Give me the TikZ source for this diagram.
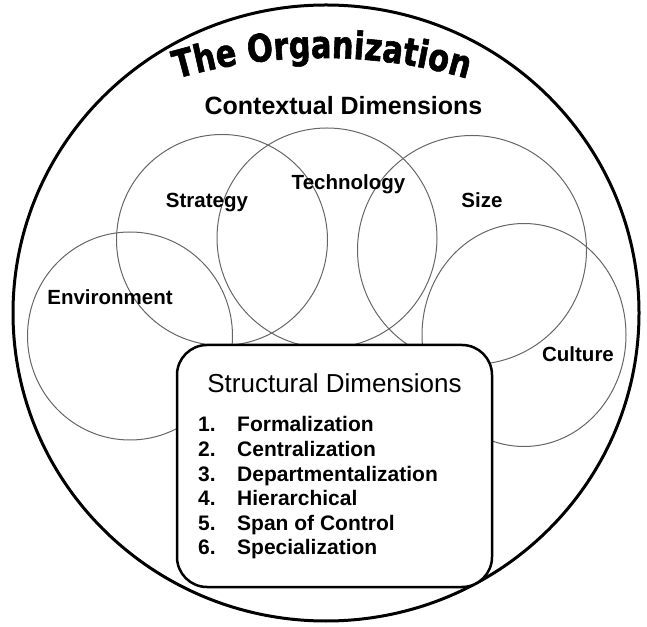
\documentclass[tikz,border=0pt]{standalone}
\usepackage{fontspec}
\setmainfont{Liberation Sans}
\newfontfamily\titlefont[FakeStretch=0.8,FakeBold=1.5]{DejaVu Sans}
\usetikzlibrary{decorations.text}

\tikzset{
  venn/.style={draw=black!60, line width=1pt},
  lbl/.style={font=\bfseries\fontsize{20.5}{22}\selectfont, anchor=base, inner sep=0pt},
  listnum/.style={font=\bfseries\fontsize{21}{23}\selectfont, anchor=base west, inner sep=0pt}
}

\begin{document}
\begin{tikzpicture}[x=1pt,y=1pt]

  \useasboundingbox (0,0) rectangle (647,626);

  % the organization
  \draw[line width=3pt] (326,313) ellipse [x radius=313, y radius=308];

  \path[decorate, decoration={text along path, text align=center,
    text={|\titlefont\bfseries\fontsize{38}{38}\selectfont|The Organization}}]
    (322,48) ++(120:520) arc [start angle=120, end angle=60, radius=520];

  \node[font=\bfseries\fontsize{25}{27}\selectfont, anchor=base, inner sep=0pt] (context) at (343.5,511) {Contextual Dimensions};

  % contextual circles
  \draw[venn] (222,386) circle [radius=105.5];
  \draw[venn] (327,388) circle [radius=110];
  \draw[venn] (472,376) circle [radius=114.5];
  \draw[venn] (524,291) ellipse [x radius=102, y radius=111.5];
  \draw[venn] (130,290) ellipse [x radius=102.5, y radius=104];

  \node[lbl] (strategy) at (207,418) {Strategy};
  \node[lbl] (technology) at (348.5,436) {Technology};
  \node[lbl] (size) at (482,418) {Size};
  \node[lbl] (environment) at (110,321) {Environment};
  \node[lbl] (culture) at (578,264) {Culture};

  % structural dimensions
  \node[draw, fill=white, line width=2.5pt, rounded corners=30pt,
    minimum width=315pt, minimum height=242pt] (struct) at (334.5,160) {};

  \node[font=\fontsize{26}{28}\selectfont, anchor=base, inner sep=0pt] (structtitle) at (334.5,233) {Structural Dimensions};

  \foreach \n/\txt [count=\i from 0] in {1/Formalization, 2/Centralization,
    3/Departmentalization, 4/Hierarchical, 5/Span of Control, 6/Specialization} {
    \node[listnum] (num\n) at (198,194-24.6*\i) {\n.};
    \node[listnum] (item\n) at (237,194-24.6*\i) {\txt};
  }

\end{tikzpicture}
\end{document}
